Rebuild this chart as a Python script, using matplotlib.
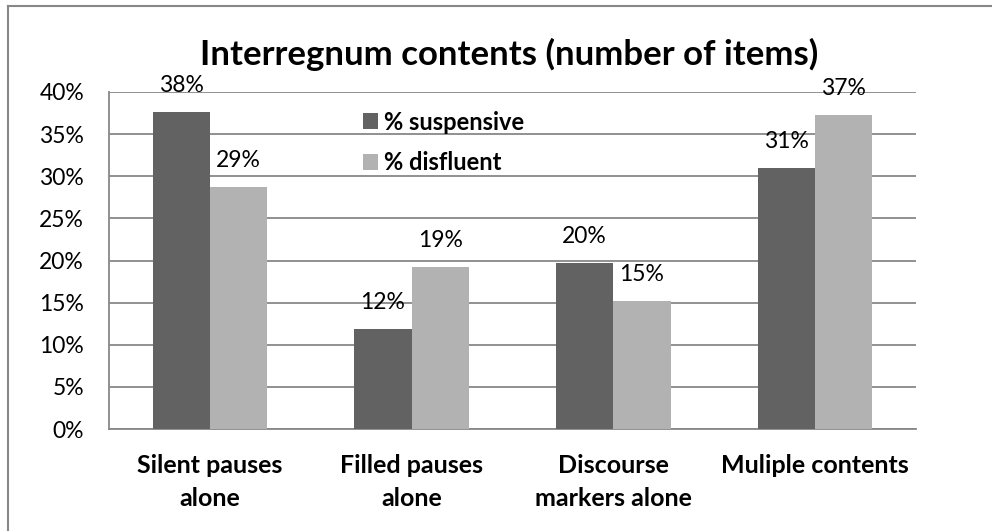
import numpy as np
import matplotlib
matplotlib.use("Agg")
import matplotlib.pyplot as plt
from matplotlib.lines import Line2D

categories = ["Silent pauses\nalone", "Filled pauses\nalone", "Discourse\nmarkers alone", "Muliple contents"]
suspensive = [37.6, 11.9, 19.7, 31.0]
disfluent = [28.7, 19.2, 15.2, 37.3]
series_names = ["% suspensive", "% disfluent"]
colors = ["#626262", "#b2b2b2"]
grid_col = "#888888"

plt.rcParams['font.family'] = ['Lato', 'DejaVu Sans']

W, H = 992, 531
fig = plt.figure(figsize=(W / 100, H / 100), dpi=100)
# outer chart frame (only left and top edges are visible)
fig.add_artist(Line2D([8 / W, 8 / W], [0, 1 - 6 / H], transform=fig.transFigure, color=grid_col, lw=1.5))
fig.add_artist(Line2D([8 / W, 1], [1 - 6 / H, 1 - 6 / H], transform=fig.transFigure, color=grid_col, lw=1.5))

ax = fig.add_axes([109 / W, (H - 429) / H, 807 / W, 337 / H])
x = np.arange(len(categories))
bw = 0.284
bars1 = ax.bar(x - bw / 2, suspensive, bw, color=colors[0], label=series_names[0], zorder=3)
bars2 = ax.bar(x + bw / 2, disfluent, bw, color=colors[1], label=series_names[1], zorder=3)

for bars in (bars1, bars2):
    for b in bars:
        v = b.get_height()
        ax.annotate(f"{v:.0f}%", (b.get_x() + b.get_width() / 2, v), xytext=(0, 19),
                    textcoords="offset points", ha="center", va="center", fontsize=16.5, zorder=4)

ax.set_xlim(-0.5, len(categories) - 0.5)
ax.set_ylim(0, 40)
ax.set_yticks(np.arange(0, 41, 5))
ax.set_yticklabels([f"{t}%" for t in range(0, 41, 5)], fontsize=16.5)
ax.set_xticks(x)
ax.set_xticklabels(categories, fontsize=18, fontweight="bold", linespacing=1.5)
ax.tick_params(axis="y", length=0, pad=18)
ax.tick_params(axis="x", length=0, pad=18)
ax.grid(axis="y", color=grid_col, lw=1.3, zorder=0)
for s in ["top", "right"]:
    ax.spines[s].set_visible(False)
for s in ["left", "bottom"]:
    ax.spines[s].set_color(grid_col)
    ax.spines[s].set_linewidth(1.3)

ax.legend(loc="upper left", bbox_to_anchor=(0.3, 0.98), frameon=False,
          prop={"weight": "bold", "size": 17}, handlelength=0.65, handleheight=0.65,
          handletextpad=0.25, labelspacing=0.75, borderpad=0)

fig.text(509 / W, 1 - 65 / H, "Interregnum contents (number of items)", ha="center", va="baseline",
         fontsize=25, fontweight="bold")

fig.savefig("out.png", dpi=100, facecolor="white")
